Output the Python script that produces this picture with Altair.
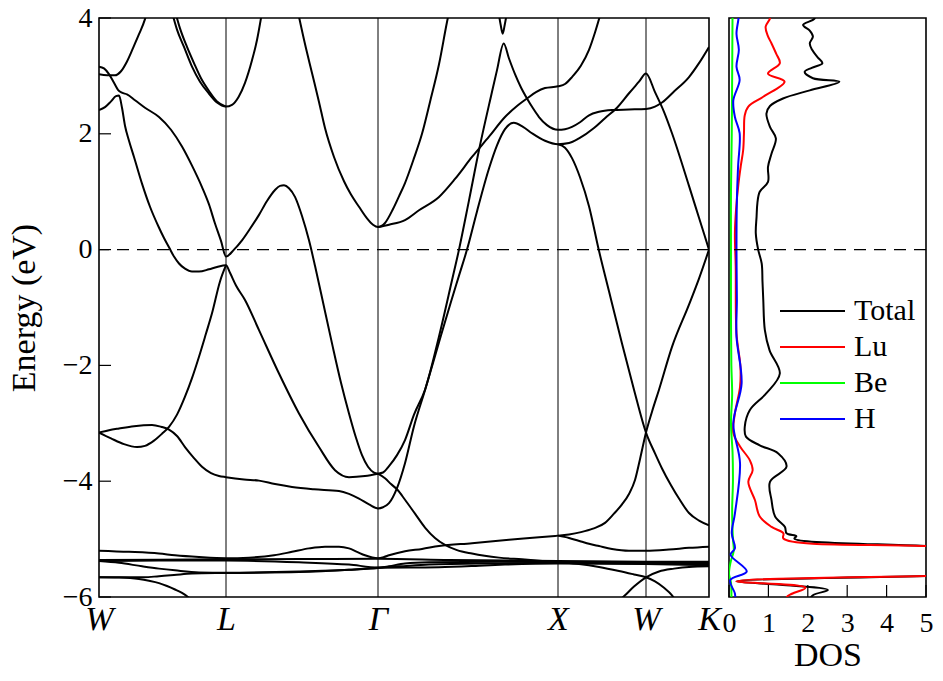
import altair as alt
import pandas as pd

# ---------------- high-symmetry path and tick values ----------------
kpath_pos = [0, 127, 279, 459, 547, 610]          # path length (arb. units)
kpath_lbl = ["W", "L", "Γ", "X", "W", "K"]
energy_ticks = [-6, -4, -2, 0, 2, 4]
dos_ticks = [0, 1, 2, 3, 4, 5]
fermi_level = [0.0]
series_names = ["Total", "Lu", "Be", "H"]
series_colors = ["#000000", "#ff0000", "#00ff00", "#0000ff"]

# ---------------- band structure: (k, E) ----------------
b01 = [(0, 3.03), (8, 3.01), (16, 3.01), (22, 3.08), (28, 3.25), (34, 3.48), (40, 3.72), (46, 3.98), (48, 4.1)]
b02 = [(0, 3.16), (5, 3.13), (10, 3.03), (15, 2.88), (19, 2.76), (23, 2.71), (28, 2.68), (36, 2.58), (46, 2.45),
       (60, 2.29), (72, 2.07), (83, 1.78), (93, 1.45), (103, 1.08), (110, 0.78), (116, 0.45), (122, 0.15),
       (127, -0.12), (135, 0.0), (143, 0.16), (151, 0.36), (160, 0.60), (168, 0.84), (176, 1.03), (181, 1.10),
       (185, 1.11), (190, 1.06), (196, 0.91), (203, 0.58), (210, 0.16), (216, -0.28), (222, -0.75), (233, -1.62),
       (242, -2.30), (250, -2.83), (257, -3.25), (263, -3.55), (269, -3.75), (275, -3.85), (279, -3.87)]
b03 = [(0, 2.41), (6, 2.46), (12, 2.56), (17, 2.65), (20, 2.66), (23, 2.45), (26, 2.14), (30, 1.88), (35, 1.60),
       (43, 1.14), (51, 0.74), (59.7, 0.39), (65, 0.20), (70, 0.04), (75, -0.12), (80, -0.24), (86, -0.33),
       (93, -0.38), (100, -0.38), (110, -0.34), (118, -0.30), (127, -0.27), (131, -0.40), (137, -0.62),
       (146, -0.87), (160, -1.39), (180, -2.14), (200, -2.83), (220, -3.41), (236, -3.81), (250, -3.93),
       (266, -3.91), (279, -3.87)]
b04 = [(0, -3.16), (12, -3.26), (25, -3.36), (38, -3.41), (46, -3.39), (55, -3.30), (63, -3.18), (70, -3.06),
       (78, -2.85), (86, -2.54), (93, -2.22), (100, -1.85), (107, -1.45), (113, -1.10), (121, -0.55), (127, -0.27)]
b05 = [(0, -3.16), (10, -3.12), (20, -3.09), (35, -3.05), (53, -3.03), (62, -3.06), (70, -3.11), (78, -3.22),
       (86, -3.41), (95, -3.60), (103, -3.75), (112, -3.86), (120, -3.91), (127, -3.93), (145, -3.97),
       (160, -3.99), (176, -4.05), (193, -4.10), (215, -4.14), (240, -4.17), (250, -4.22), (260, -4.30),
       (270, -4.40), (279, -4.47), (284, -4.45), (290, -4.38), (298, -4.12), (306, -3.69), (315, -3.05),
       (326, -2.43), (340, -1.60), (352, -0.90), (360, -0.45), (368, 0.0), (378, 0.66), (390, 1.40),
       (398, 1.80), (406, 2.08), (414.7, 2.19), (424, 2.12), (433, 2.01), (446, 1.88), (459, 1.82),
       (470, 1.84), (480, 1.92), (495, 2.10), (506, 2.27), (518, 2.45), (530, 2.70), (540, 2.90), (547, 3.04),
       (556, 2.72), (565, 2.38), (573, 2.01), (590, 1.10), (600, 0.55), (610, 0.0)]
b06 = [(279, -3.87), (284, -3.85), (290, -3.74), (298, -3.55), (306, -3.29), (315, -2.85), (326, -2.42),
       (340, -1.50), (353, -0.53), (360, 0.0), (370, 0.85), (380, 1.72), (392, 2.65), (398, 3.10), (404.7, 3.56),
       (410, 3.30), (416, 3.03), (422, 2.80), (428, 2.61), (434, 2.44), (440, 2.29), (448, 2.15), (459, 2.07),
       (466, 2.08), (473, 2.12), (481, 2.20), (490, 2.32), (500, 2.38), (513, 2.41), (530, 2.42), (547, 2.43),
       (556, 2.47), (563, 2.54), (575, 2.73), (590, 2.98), (600, 3.22), (610, 3.50)]
b07 = [(399.5, 4.1), (401.7, 3.88), (403.7, 3.73), (405.7, 3.88), (408, 4.1)]
b08 = [(279, 0.39), (290, 0.43), (306, 0.51), (320, 0.68), (340, 0.91), (356, 1.22), (373, 1.60), (390, 1.95),
       (406, 2.29), (418, 2.48), (428, 2.61), (437, 2.72), (446, 2.79), (459, 2.82), (466, 2.86), (473, 2.98),
       (482, 3.18), (490, 3.45), (496, 3.75), (502, 4.1)]
b09 = [(199, 4.1), (206, 3.55), (213, 3.05), (220, 2.55), (226, 2.10), (235, 1.60), (245, 1.18), (252, 0.95),
       (260, 0.74), (268, 0.54), (274, 0.43), (279, 0.39), (286, 0.46), (294, 0.70), (300, 0.92), (306, 1.15),
       (315, 1.58), (323, 2.0), (331, 2.55), (340, 3.2), (348, 3.93), (350, 4.1)]
b10 = [(73, 4.1), (78, 3.80), (85, 3.50), (93, 3.16), (101, 2.90), (109.7, 2.70), (118, 2.54), (127, 2.47),
       (133, 2.50), (139.7, 2.64), (146, 2.88), (153, 3.27), (158, 3.62), (163, 4.1)]
b11 = [(76.3, 4.1), (81, 3.82), (88, 3.50), (95, 3.22), (102, 2.96), (110, 2.74), (118, 2.56), (127, 2.47)]
b12 = [(459, 1.82), (466, 1.76), (473, 1.58), (481, 1.25), (490, 0.75), (499.7, 0.0), (510, -0.72),
       (523, -1.62), (535, -2.42), (547, -3.16), (556, -3.52), (563, -3.78), (572, -4.07), (580, -4.30),
       (590, -4.55), (600, -4.68), (610, -4.76)]
b13 = [(459, -4.94), (470, -4.92), (482, -4.88), (494, -4.82), (506, -4.72), (515, -4.56), (523, -4.40),
       (530, -4.22), (536, -3.98), (541, -3.62), (547, -3.16), (553, -2.80), (560, -2.42), (573, -1.68),
       (590, -0.95), (600, -0.50), (610, 0.0)]
b14 = [(459, -4.94), (470, -4.98), (482, -5.04), (490, -5.08), (500, -5.12), (513, -5.17), (530, -5.20),
       (547, -5.20), (570, -5.18), (590, -5.15), (610, -5.13)]
b15 = [(0, -5.20), (30, -5.22), (60, -5.25), (76, -5.28), (100, -5.31), (127, -5.33), (150, -5.32), (175, -5.28),
       (193, -5.22), (210, -5.16), (226, -5.13), (240, -5.13), (250, -5.16), (258, -5.22), (266, -5.28),
       (279, -5.33), (285, -5.31), (290, -5.28), (306, -5.21), (323, -5.17), (340, -5.12), (373, -5.07),
       (410, -5.01), (440, -4.97), (459, -4.94)]
b16 = [(279, -3.87), (286, -3.95), (292, -4.05), (298, -4.14), (306, -4.32), (316, -4.56), (326, -4.80),
       (336, -4.98), (346, -5.10), (358, -5.19), (373, -5.25), (400, -5.32), (423, -5.35), (459, -5.40),
       (480, -5.43), (500, -5.48), (520, -5.55), (535, -5.61), (547, -5.66), (556, -5.73), (565, -5.84),
       (573, -5.97), (578, -6.1)]
b17 = [(518, -6.1), (526, -5.97), (535, -5.82), (547, -5.66), (560, -5.56), (575, -5.51), (590, -5.48), (610, -5.47)]
b18 = [(0, -5.36), (127, -5.35), (200, -5.345), (279, -5.34), (350, -5.36), (459, -5.38), (547, -5.39), (610, -5.39)]
b19 = [(0, -5.38), (60, -5.37), (127, -5.37), (200, -5.40), (250, -5.44), (279, -5.49), (300, -5.47),
       (330, -5.44), (400, -5.42), (459, -5.41), (547, -5.42), (610, -5.43)]
b20 = [(0, -5.38), (20, -5.41), (43, -5.47), (60, -5.51), (76, -5.54), (100, -5.575), (127, -5.58), (200, -5.56),
       (250, -5.53), (279, -5.50), (290, -5.47), (306, -5.42), (330, -5.40), (400, -5.39), (459, -5.39),
       (547, -5.40), (610, -5.41)]
b21 = [(0, -5.66), (45, -5.66), (60, -5.64), (75, -5.62), (93, -5.595), (127, -5.585), (200, -5.57), (250, -5.53),
       (279, -5.495), (310, -5.49), (340, -5.485), (380, -5.46), (406, -5.44), (459, -5.42), (547, -5.43),
       (610, -5.45)]
b22 = [(0, -5.66), (20, -5.665), (40, -5.69), (50, -5.72), (60, -5.76), (68, -5.81), (76, -5.87), (83, -5.93),
       (89, -6.0), (95, -6.1)]

bands = [b01, b02, b03, b04, b05, b06, b07, b08, b09, b10, b11,
         b12, b13, b14, b15, b16, b17, b18, b19, b20, b21, b22]

# ---------------- DOS: (value, E) ----------------
dos_total = [(2.20, 4.10), (2.17, 3.99), (1.88, 3.88), (2.05, 3.78), (2.13, 3.68), (2.05, 3.56), (2.11, 3.45),
             (2.25, 3.32), (2.37, 3.22), (2.10, 3.14), (1.92, 3.07), (2.13, 2.96), (2.80, 2.90), (2.05, 2.75),
             (1.37, 2.61), (1.04, 2.48), (0.95, 2.35), (1.04, 2.12), (1.19, 1.92), (1.08, 1.66), (0.99, 1.43),
             (0.99, 1.17), (0.78, 1.00), (0.72, 0.80), (0.70, 0.57), (0.68, 0.28), (0.74, 0.0), (0.83, -0.24),
             (0.85, -0.55), (0.87, -0.87), (0.91, -1.39), (1.03, -1.74), (1.29, -2.14), (0.95, -2.48),
             (0.53, -2.77), (0.40, -3.06), (0.43, -3.23), (0.78, -3.38), (1.25, -3.52), (1.46, -3.75),
             (1.04, -4.01), (1.08, -4.33), (1.17, -4.61), (1.42, -4.79), (1.46, -4.90), (1.71, -4.95),
             (1.66, -4.99), (5.2, -5.125), (14.0, -5.35), (14.0, -5.55), (5.2, -5.635), (0.19, -5.73),
             (1.30, -5.79), (2.51, -5.88), (2.13, -5.97), (2.0, -6.1)]
dos_lu = [(1.05, 4.10), (1.04, 3.99), (0.93, 3.85), (0.98, 3.70), (1.08, 3.56), (1.20, 3.38), (1.29, 3.22),
          (0.99, 3.04), (1.41, 2.90), (0.87, 2.64), (0.49, 2.47), (0.40, 2.32), (0.38, 2.01), (0.36, 1.72),
          (0.30, 1.45), (0.24, 1.14), (0.18, 0.70), (0.15, 0.28), (0.17, -0.29), (0.19, -1.45), (0.29, -2.02),
          (0.28, -2.37), (0.15, -2.83), (0.11, -3.17), (0.28, -3.40), (0.53, -3.64), (0.60, -3.81),
          (0.49, -4.01), (0.66, -4.33), (0.78, -4.61), (1.08, -4.79), (1.38, -4.90), (1.38, -4.99),
          (5.2, -5.125), (14.0, -5.35), (14.0, -5.55), (5.2, -5.635), (0.19, -5.73), (1.94, -5.84),
          (1.50, -5.98), (1.40, -6.1)]
dos_be = [(0.09, 4.1), (0.08, 3.0), (0.07, 2.0), (0.05, 1.0), (0.05, 0.0), (0.05, -1.0), (0.06, -2.0),
          (0.08, -2.5), (0.05, -3.0), (0.09, -3.5), (0.10, -4.0), (0.08, -4.5), (0.10, -5.0), (0.12, -5.2),
          (0.04, -5.4), (0.0, -5.6), (0.05, -5.75), (0.06, -6.1)]
dos_h = [(0.24, 4.1), (0.24, 3.99), (0.19, 3.73), (0.25, 3.45), (0.19, 3.16), (0.27, 2.93), (0.11, 2.58),
         (0.15, 2.29), (0.27, 2.01), (0.23, 1.43), (0.20, 0.85), (0.19, 0.0), (0.20, -0.87), (0.19, -1.5),
         (0.32, -2.31), (0.11, -3.0), (0.28, -3.69), (0.15, -4.56), (0.07, -4.9), (0.15, -5.16), (0.04, -5.27),
         (0.45, -5.56), (0.03, -5.71), (0.15, -5.94), (0.16, -6.1)]
dos_series = [dos_total, dos_lu, dos_be, dos_h]

# ---------------- tables ----------------
band_rows = []
for bi, pts in enumerate(bands):
    for k, e in pts:
        band_rows.append({"band": f"b{bi + 1:02d}", "k": k, "E": e})
band_df = pd.DataFrame(band_rows)

dos_rows = []
for name, pts in zip(series_names, dos_series):
    for i, (v, e) in enumerate(pts):
        dos_rows.append({"series": name, "i": i, "dos": v, "E": e})
dos_df = pd.DataFrame(dos_rows)

FONT = "Liberation Serif"
BW, BH, DW = 610, 579, 197
TICK_LEN = 12
LBL = 28

k_scale = alt.Scale(domain=[kpath_pos[0], kpath_pos[-1]], nice=False, zero=False)
e_scale = alt.Scale(domain=[energy_ticks[0], energy_ticks[-1]], nice=False, zero=False)
d_scale = alt.Scale(domain=[dos_ticks[0], dos_ticks[-1]], nice=False, zero=False)

label_expr = f"{kpath_lbl}[indexof({kpath_pos}, datum.value)]"

k_axis = alt.Axis(values=kpath_pos, labelExpr=label_expr, title=None, ticks=False, tickSize=0,
                  domain=False, grid=False, labelFont=FONT, labelFontSize=34,
                  labelFontStyle="italic", labelPadding=5, labelFlush=False,
                  labelOverlap=False, labelColor="black")
e_axis = alt.Axis(values=energy_ticks, format="d", title="Energy (eV)", ticks=False, tickSize=0,
                  domain=False, grid=False, labelFont=FONT, labelFontSize=LBL, labelPadding=7,
                  labelColor="black", labelFlush=False, labelOverlap=False,
                  titleFont=FONT, titleFontSize=34, titleFontWeight="normal",
                  titleColor="black", titlePadding=21)
d_axis = alt.Axis(values=dos_ticks, format="d", title="DOS", ticks=False, tickSize=0, domain=False,
                  grid=False, labelFont=FONT, labelFontSize=LBL, labelPadding=12, labelColor="black",
                  labelFlush=False, labelOverlap=False, titleFont=FONT, titleFontSize=34,
                  titleFontWeight="normal", titleColor="black", titlePadding=1)

x_band = alt.X("k:Q", scale=k_scale, axis=k_axis)
y_band = alt.Y("E:Q", scale=e_scale, axis=e_axis)
x_dos = alt.X("dos:Q", scale=d_scale, axis=d_axis)
y_dos = alt.Y("E:Q", scale=e_scale, axis=None)

vlines = alt.Chart(pd.DataFrame({"k": kpath_pos[1:-1]})).mark_rule(
    color="black", strokeWidth=1).encode(x=x_band)
fermi_b = alt.Chart(pd.DataFrame({"E": fermi_level})).mark_rule(
    color="black", strokeWidth=1.3, strokeDash=[12, 8]).encode(y=y_band)
band_lines = alt.Chart(band_df).mark_line(
    color="black", strokeWidth=2, interpolate="monotone", clip=True).encode(
    x=x_band, y=y_band, detail="band:N")
yticks = alt.Chart(pd.DataFrame({"E": energy_ticks})).mark_rule(
    color="black", strokeWidth=1.2).encode(
    y=y_band, x=alt.value(0), x2=alt.value(TICK_LEN))

band_chart = alt.layer(band_lines, vlines, fermi_b, yticks).properties(width=BW, height=BH)

fermi_d = alt.Chart(pd.DataFrame({"E": fermi_level})).mark_rule(
    color="black", strokeWidth=1.3, strokeDash=[12, 8]).encode(y=y_dos)
dos_lines = alt.Chart(dos_df).mark_line(strokeWidth=2, interpolate="catmull-rom", clip=True).encode(
    x=x_dos,
    y=y_dos,
    color=alt.Color("series:N", sort=series_names,
                    scale=alt.Scale(domain=series_names, range=series_colors),
                    legend=alt.Legend(orient="none", legendX=680, legendY=278, title=None,
                                      symbolType="stroke", symbolSize=4225, symbolStrokeWidth=2,
                                      labelFont=FONT, labelFontSize=30, labelColor="black",
                                      labelOffset=8, clipHeight=30, rowPadding=6, padding=0)),
    order=alt.Order("i:Q"),
)
xticks = alt.Chart(pd.DataFrame({"dos": dos_ticks})).mark_rule(
    color="black", strokeWidth=1.2).encode(
    x=x_dos, y=alt.value(BH), y2=alt.value(BH - TICK_LEN))

dos_chart = alt.layer(dos_lines, fermi_d, xticks).properties(width=DW, height=BH)

chart = alt.hconcat(
    band_chart, dos_chart, spacing=20, bounds="flush",
    padding={"left": -2, "top": -5, "right": 0, "bottom": -4}, background="white",
).configure_view(stroke="black", strokeWidth=1.6)

chart.save("out.html", embed_options={"renderer": "svg", "actions": False})
